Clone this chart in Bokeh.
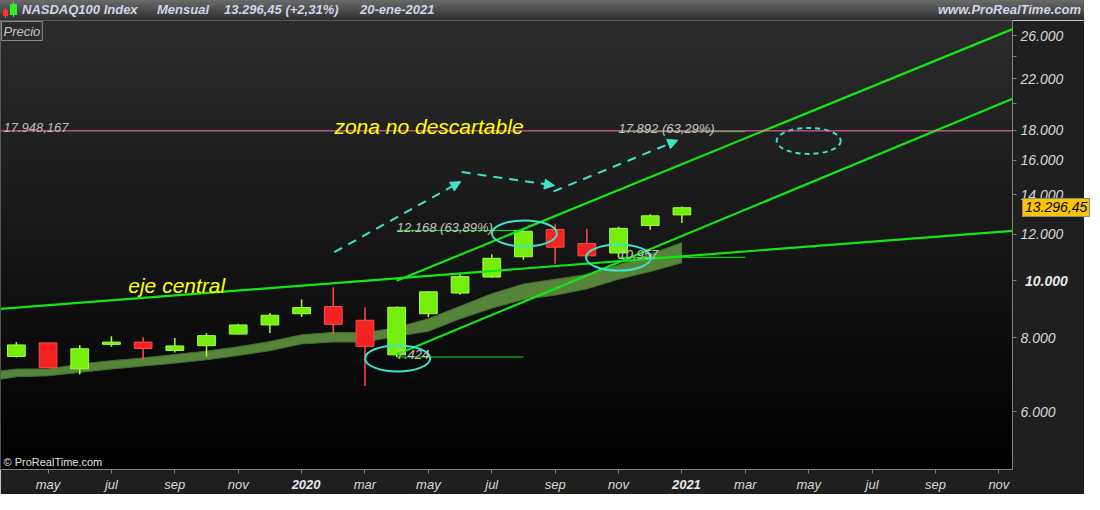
import numpy as np
from bokeh.plotting import figure
from bokeh.layouts import column
from bokeh.models import ColumnDataSource, FixedTicker, Label, Arrow, NormalHead, Span, Div
from bokeh.embed import file_html
from bokeh.resources import INLINE

# ---------------- data ----------------
candle_months = ["abr-19", "may-19", "jun-19", "jul-19", "ago-19", "sep-19", "oct-19", "nov-19",
                 "dic-19", "ene-20", "feb-20", "mar-20", "abr-20", "may-20", "jun-20", "jul-20",
                 "ago-20", "sep-20", "oct-20", "nov-20", "dic-20", "ene-21"]
candle_idx = list(range(len(candle_months)))
opens = [7440, 7845, 7090, 7800, 7870, 7616, 7760, 8120, 8414, 8791, 9040, 8570,
         7487, 8791, 9529, 10144, 10980, 12220, 11560, 11145, 12405, 12929]
highs = [7870, 7850, 7784, 8050, 8023, 7997, 8145, 8456, 8814, 9290, 9747, 9015,
         9040, 9600, 10314, 11092, 12170, 12454, 12248, 12340, 12960, 13359]
lows = [7410, 7110, 6934, 7727, 7335, 7560, 7437, 8103, 8153, 8682, 8120, 6633,
        7424, 8672, 9468, 10120, 10857, 10680, 10980, 10937, 12200, 12528]
closes = [7783, 7118, 7668, 7870, 7675, 7752, 8070, 8414, 8737, 9005, 8434, 7738,
          9015, 9576, 10160, 10914, 12128, 11400, 11021, 12266, 12882, 13296.45]

band_x = [-0.5, 0, 1, 2, 3, 4, 5, 6, 7, 8, 9, 10, 11, 12, 13, 14, 15, 16, 17, 18, 19, 20, 21]
band_upper = [7031, 7084, 7084, 7222, 7318, 7400, 7497, 7597, 7727, 7888, 8096, 8174, 8159,
              8330, 8618, 9051, 9504, 9870, 10057, 10247, 10641, 11092, 11603]
band_lower = [6809, 6873, 6899, 6991, 7084, 7167, 7249, 7345, 7469, 7611, 7813, 7873, 7873,
              8050, 8206, 8618, 8983, 9292, 9452, 9685, 10057, 10364, 10722]

x_tick_pos = [1, 3, 5, 7, 9, 11, 13, 15, 17, 19, 21, 23, 25, 27, 29, 31]
x_tick_text = ["may", "jul", "sep", "nov", "2020", "mar", "may", "jul", "sep", "nov",
               "2021", "mar", "may", "jul", "sep", "nov"]
y_ticks = [6000, 8000, 10000, 12000, 14000, 16000, 18000, 20000, 22000, 24000, 26000]
y_tick_text = ["6.000", "8.000", "10.000", "12.000", "14.000", "16.000", "18.000", "",
               "22.000", "", "26.000"]

central_x = [-0.5, 31.43]
central_y = [8959, 12148]
upper_x = [12, 31.43]
upper_y = [10000, 26697]
lower_x = [12, 31.43]
lower_y = [7500, 20345]

marker_level = [7424, 12168, 10957, 17892]
marker_start = [12, 12, 19, 19]
marker_end = [16, 16, 23, 23]
marker_text = ["7.424", "12.168 (63,89%)", "10.957", "17.892 (63,29%)"]

resistance = 17948.167
last_close = 13296.45

circle_x = [12.03, 16.03, 19.0]
circle_y = [7383, 12028, 10946]
target_x = [25.0]
target_y = [17258]

arrow_x0 = [10.03, 14.05, 16.95]
arrow_y0 = [11177, 15282, 14171]
arrow_x1 = [14.02, 16.98, 20.87]
arrow_y1 = [14719, 14498, 17302]

header_items = ["NASDAQ100 Index", "Mensual", "13.296,45 (+2,31%)", "20-ene-2021"]
header_site = "www.ProRealTime.com"

# ---------------- styling ----------------
FONT = "Liberation Sans"
GREEN_LINE = "#14e614"
AQUA = "#3fe3c6"
UP_FILL, UP_LINE = "#74ee0a", "#a2ff45"
DN_FILL, DN_LINE = "#f42222", "#ff4c4c"
X0, X1 = -0.5, 31.43
Y0, Y1 = 4786, 27613
W = 1084
FW, FH = 1012, 450          # plot frame
RB, BB = W - FW, 24         # right axis band, bottom axis band
H = FH + BB
HH = 20                     # header height


def gradient(n, bottom, top):
    img = np.zeros((n, 1), dtype=np.uint32)
    v = img.view(dtype=np.uint8).reshape((n, 1, 4))
    shade = np.linspace(bottom, top, n).astype(np.uint8)
    v[:, 0, 0] = shade
    v[:, 0, 1] = shade
    v[:, 0, 2] = shade
    v[:, 0, 3] = 255
    return img


# ---------------- header (HTML) ----------------
hdr_pos = [22, 157, 224, 360]
spans = "".join(
    f'<span style="position:absolute;left:{x}px;top:0">{t}</span>'
    for x, t in zip(hdr_pos, header_items))
icon = ('<span style="position:absolute;left:5px;top:8px;width:1px;height:10px;background:#ff4040"></span>'
        '<span style="position:absolute;left:3px;top:10px;width:5px;height:6px;background:#ff3030"></span>'
        '<span style="position:absolute;left:13px;top:2px;width:1px;height:15px;background:#40ff40"></span>'
        '<span style="position:absolute;left:10px;top:4px;width:7px;height:11px;background:#30f030"></span>')
header_html = (
    f'<div style="position:relative;width:{W}px;height:{HH}px;overflow:hidden;'
    f'background:linear-gradient(#6a6a6a,#2e2e2e);font-family:\'{FONT}\';font-weight:bold;'
    f'font-style:italic;font-size:13px;line-height:{HH}px;color:#cfd6e6;white-space:nowrap">'
    f'{icon}{spans}<span style="position:absolute;right:3px;top:0">{header_site}</span></div>')
h = Div(text=header_html, width=W, height=HH, styles={"margin": "0", "padding": "0"})

# ---------------- main chart ----------------
p = figure(width=W, height=H, x_range=(X0, X1), y_range=(Y0, Y1),
           y_axis_type="log", y_axis_location="right", output_backend="svg",
           toolbar_location=None, min_border_left=0, min_border_top=0,
           min_border_right=RB, min_border_bottom=BB,
           background_fill_color="#101010", border_fill_color="#1f1f1f",
           outline_line_color="#707070")
p.grid.visible = False

p.image_rgba(image=[gradient(300, 0, 44)], x=X0, y=Y0, dw=X1 - X0, dh=Y1 - Y0)

# moving-average band
p.varea(x=band_x, y1=band_lower, y2=band_upper, fill_color="#55843a")
p.line(band_x, band_upper, line_color="#436e31", line_width=1)
p.line(band_x, band_lower, line_color="#436e31", line_width=1)

# marker lines
p.segment(x0=marker_start, y0=marker_level, x1=marker_end, y1=marker_level,
          line_color=GREEN_LINE, line_width=1)

# candles
up = [i for i in candle_idx if closes[i] >= opens[i]]
dn = [i for i in candle_idx if closes[i] < opens[i]]
for sel, fc, lc in [(up, UP_FILL, UP_LINE), (dn, DN_FILL, DN_LINE)]:
    src = ColumnDataSource(dict(
        x=[candle_idx[i] for i in sel],
        hi=[highs[i] for i in sel],
        lo=[lows[i] for i in sel],
        top=[max(opens[i], closes[i]) for i in sel],
        bot=[min(opens[i], closes[i]) for i in sel],
    ))
    p.segment(x0="x", y0="hi", x1="x", y1="lo", source=src, line_color=lc, line_width=1.5)
    p.vbar(x="x", width=0.56, top="top", bottom="bot", source=src, fill_color=fc,
           line_color=lc, line_width=1)

# trend lines
p.line(central_x, central_y, line_color=GREEN_LINE, line_width=2.2)
p.line(upper_x, upper_y, line_color=GREEN_LINE, line_width=2.2)
p.line(lower_x, lower_y, line_color=GREEN_LINE, line_width=2.2)

# resistance line
p.add_layout(Span(location=resistance, dimension="width", line_color="#ff6eb4", line_width=1))

# ellipses
p.ellipse(x=circle_x, y=circle_y, width=65, height=26, width_units="screen",
          height_units="screen", fill_color=None, line_color=AQUA, line_width=2)
p.ellipse(x=target_x, y=target_y, width=64, height=26, width_units="screen",
          height_units="screen", fill_color=None, line_color=AQUA, line_width=2,
          line_dash="5 4")

# dashed arrows
for ax0, ay0, ax1, ay1 in zip(arrow_x0, arrow_y0, arrow_x1, arrow_y1):
    p.add_layout(Arrow(x_start=ax0, y_start=ay0, x_end=ax1, y_end=ay1,
                       line_color=AQUA, line_width=2, line_dash="9 7",
                       end=NormalHead(size=10, fill_color=AQUA, line_color=AQUA)))

# texts
for xs, lv, txt in zip(marker_start, marker_level, marker_text):
    p.add_layout(Label(x=xs, y=lv, text=txt, y_offset=3, text_baseline="alphabetic",
                       text_font=FONT, text_font_size="13px", text_font_style="italic",
                       text_color="#c4c4c4"))

p.add_layout(Label(x=X0, y=resistance, x_offset=3, y_offset=3, text="17.948,167",
                   text_baseline="alphabetic", text_font=FONT, text_font_size="13px",
                   text_font_style="italic", text_color="#bcbcbc"))
p.add_layout(Label(x=13.02, y=18259, text="zona no descartable", text_align="center",
                   text_baseline="alphabetic", text_font=FONT, text_font_size="21px",
                   text_font_style="italic", text_color="#ffff00"))
p.add_layout(Label(x=5.06, y=9806, text="eje central", text_align="center",
                   text_baseline="alphabetic", text_font=FONT, text_font_size="21px",
                   text_font_style="italic", text_color="#ffff00"))
p.add_layout(Label(x=X0, y=Y1, x_offset=1, y_offset=-1, text="Precio", text_baseline="top",
                   text_font=FONT, text_font_size="13px", text_font_style="italic",
                   text_color="#c8c8c8", background_fill_color="#2c2c2c",
                   border_line_color="#8a8a8a", padding=2))
p.add_layout(Label(x=X0, y=Y0, x_offset=3, y_offset=2, text="© ProRealTime.com",
                   text_baseline="bottom", text_font=FONT, text_font_size="11px",
                   text_color="#e0e0e0"))

# axes
p.xaxis.ticker = FixedTicker(ticks=x_tick_pos)
p.xaxis.major_label_overrides = {pos: ("" if txt.isdigit() else txt)
                                 for pos, txt in zip(x_tick_pos, x_tick_text)}
p.yaxis.ticker = FixedTicker(ticks=y_ticks)
p.yaxis.major_label_overrides = {t: ("" if txt == "10.000" else txt)
                                 for t, txt in zip(y_ticks, y_tick_text)}
for ax in (p.xaxis, p.yaxis):
    ax.axis_line_color = "#808080"
    ax.major_tick_line_color = "#808080"
    ax.major_tick_out = 4
    ax.major_tick_in = 0
    ax.minor_tick_line_color = None
    ax.major_label_text_color = "#d8d8d8"
    ax.major_label_text_font = FONT
    ax.major_label_text_font_style = "italic"
p.xaxis.major_label_text_font_size = "13px"
p.xaxis.major_label_standoff = 3
p.yaxis.major_label_text_font_size = "14px"
p.yaxis.major_label_standoff = 4

# ---------------- HTML overlay for the texts that sit in the axis bands ----------------
def sx(x):
    return (x - X0) / (X1 - X0) * FW


def sy(y):
    return (np.log10(Y1) - np.log10(y)) / (np.log10(Y1) - np.log10(Y0)) * FH


base = f"position:absolute;font-family:'{FONT}';font-style:italic;white-space:nowrap;"
parts = []
for pos, txt in zip(x_tick_pos, x_tick_text):
    if txt.isdigit():
        parts.append(f'<span style="{base}font-weight:bold;font-size:13px;line-height:15px;'
                     f'color:#e8e8e8;left:{sx(pos) - 30:.1f}px;width:60px;text-align:center;'
                     f'top:{FH + 7}px">{txt}</span>')
for t, txt in zip(y_ticks, y_tick_text):
    if txt == "10.000":
        parts.append(f'<span style="{base}font-weight:bold;font-size:14px;line-height:16px;'
                     f'color:#e8e8e8;left:{FW + 8}px;top:{sy(t) - 8:.1f}px">{txt}</span>')
parts.append(f'<span style="{base}font-size:14px;line-height:15px;color:#000;'
             f'background:#f7c600;border:1px solid #8a8a8a;padding:1px 2px;'
             f'left:{FW + 5}px;top:{sy(last_close) - 9.5:.1f}px">13.296,45</span>')
overlay_html = (f'<div style="position:relative;width:{W}px;height:{H}px;">'
                + "".join(parts) + '</div>')
o = Div(text=overlay_html, width=W, height=H,
        styles={"margin-top": f"-{H}px", "position": "relative", "z-index": "10",
                "pointer-events": "none"})

layout = column(h, p, o)
open("out.html", "w").write(file_html(layout, INLINE))
